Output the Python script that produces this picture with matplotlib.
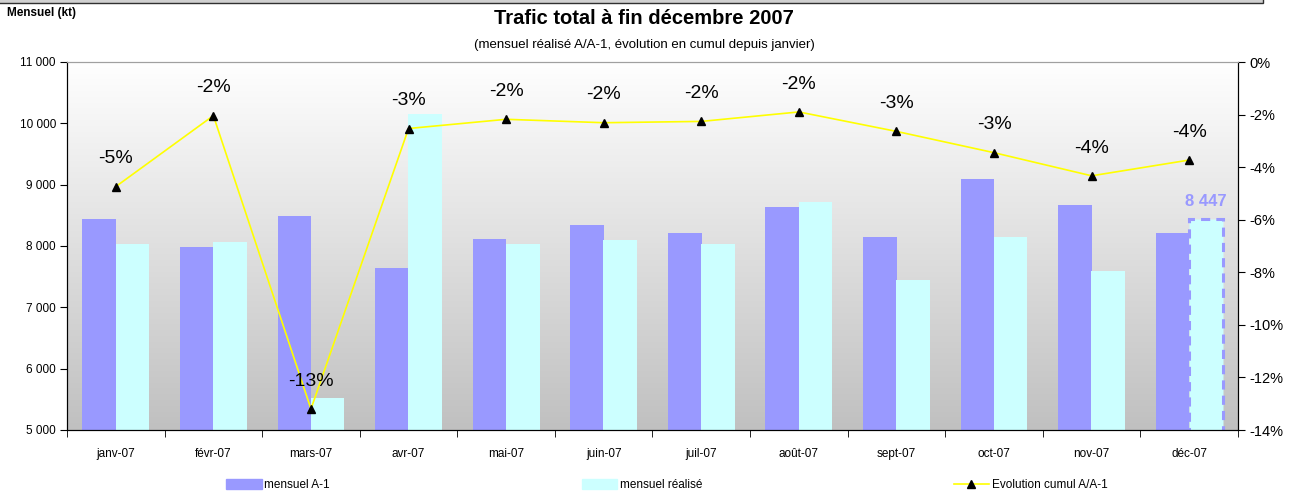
import numpy as np
import matplotlib
matplotlib.use("Agg")
import matplotlib.pyplot as plt
from matplotlib.ticker import FuncFormatter, FixedLocator
from matplotlib.patches import Rectangle
from matplotlib.lines import Line2D

plt.rcParams["font.family"] = ["Liberation Sans", "DejaVu Sans"]

# ── data ───────────────────────────────────────────────────────────
months = ["janv-07", "févr-07", "mars-07", "avr-07", "mai-07", "juin-07",
          "juil-07", "août-07", "sept-07", "oct-07", "nov-07", "déc-07"]
mensuel_a1 = [8440, 7985, 8490, 7640, 8115, 8343, 8212, 8636, 8147, 9093, 8669, 8212]
mensuel_realise = [8033, 8065, 5520, 10150, 8033, 8098, 8033, 8718, 7446, 8147, 7593, 8447]
evolution = [-4.74, -2.04, -13.2, -2.53, -2.18, -2.31, -2.26, -1.90, -2.64, -3.45, -4.33, -3.73]

C_A1 = "#9999ff"
C_REAL = "#ccffff"

fig = plt.figure(figsize=(12.92, 4.94), dpi=100)
ax = fig.add_axes([67 / 1292, 64 / 494, (1238 - 67) / 1292, (430 - 62) / 494])
ax2 = ax.twinx()

# gradient background
grad = np.linspace(1.0, 0.0, 256).reshape(-1, 1)
ax.imshow(grad, extent=[0, 1, 0, 1], transform=ax.transAxes, aspect="auto",
          cmap=matplotlib.colors.LinearSegmentedColormap.from_list("bg", ["#c0c0c0", "#ffffff"]),
          zorder=0)

x = np.arange(len(months))
w = 0.345
ax.bar(x - 0.17, mensuel_a1, width=w, color=C_A1, zorder=2)
bars = ax.bar(x + 0.17, mensuel_realise, width=w, color=C_REAL, zorder=2)
last = bars[-1]
last.set_edgecolor(C_A1)
last.set_linestyle((0, (3, 2)))
last.set_linewidth(2.2)
ax.text(x[-1] + 0.17, mensuel_realise[-1] + 150, f"{mensuel_realise[-1]:,}".replace(",", " "),
        ha="center", va="bottom", color=C_A1, fontsize=12, fontweight="bold", zorder=5)

ax.set_xlim(-0.5, len(months) - 0.5)
ax.set_ylim(5000, 11000)
ax.set_yticks(range(5000, 11001, 1000))
ax.yaxis.set_major_formatter(FuncFormatter(lambda v, p: f"{int(v):,}".replace(",", " ")))
ax.set_xticks(x)
ax.set_xticklabels(months)
ax.xaxis.set_minor_locator(FixedLocator(np.arange(-0.5, len(months), 1.0)))
ax.tick_params(axis="x", which="major", length=0, pad=13, labelsize=8.5)
ax.tick_params(axis="x", which="minor", length=5, direction="out")
ax.tick_params(axis="y", length=5, direction="out", labelsize=8.5, pad=3)

# cumulative evolution line
ax2.plot(x, evolution, color="#ffff00", lw=1.2, marker="^", markersize=6,
         markerfacecolor="black", markeredgecolor="black", zorder=4)
for xi, v in zip(x, evolution):
    ax2.annotate(f"{round(v):d}%", (xi, v), xytext=(0, 20), textcoords="offset points",
                 ha="center", va="center", fontsize=14, zorder=6)
ax2.set_ylim(-14, 0)
ax2.set_yticks(range(-14, 1, 2))
ax2.yaxis.set_major_formatter(FuncFormatter(lambda v, p: f"{int(round(v))}%"))
ax2.tick_params(axis="y", length=5, direction="out", labelsize=10.5, pad=3)

for a in (ax, ax2):
    a.spines["top"].set_color("#a0a0a0")
    a.spines["left"].set_color("black")
    a.spines["right"].set_color("black")
    a.spines["bottom"].set_color("black")

# titles
fig.text(644 / 1292, 1 - 19 / 494, "Trafic total à fin décembre 2007", ha="center", va="center",
         fontsize=14.5, fontweight="bold")
fig.text(644 / 1292, 1 - 45 / 494, "(mensuel réalisé A/A-1, évolution en cumul depuis janvier)",
         ha="center", va="center", fontsize=9.5)
fig.text(7 / 1292, 1 - 13 / 494, "Mensuel (kt)", ha="left", va="center", fontsize=8.5,
         fontweight="bold")

# frame edge at the top of the picture
fig.patches.append(Rectangle((-0.01, 1 - 3.5 / 494), 1263 / 1292 + 0.01, 6 / 494,
                             transform=fig.transFigure, facecolor="#d0d0d0",
                             edgecolor="#303030", lw=1.0))

# legend
handles = [Rectangle((0, 0), 1, 1, color=C_A1), Rectangle((0, 0), 1, 1, color=C_REAL),
           Line2D([], [], color="#ffff00", lw=1.2, marker="^", markersize=6,
                  markerfacecolor="black", markeredgecolor="black")]
labels = ["mensuel A-1", "mensuel réalisé", "Evolution cumul A/A-1"]
fig.legend(handles, labels, loc="center", bbox_to_anchor=(667 / 1292, 1 - 485 / 494), ncol=3,
           frameon=False, fontsize=8.5, handlelength=3.0, handleheight=1.0,
           columnspacing=21.3, handletextpad=0.25)

fig.savefig("out.png", dpi=100)
